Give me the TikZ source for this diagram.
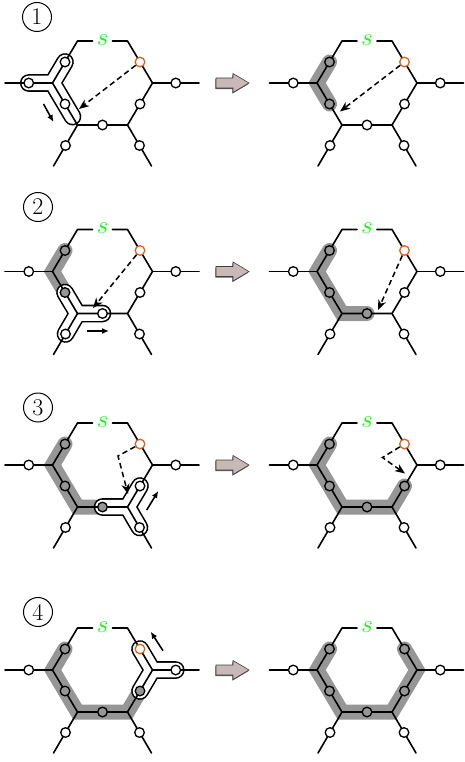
\documentclass[tikz,border=0pt]{standalone}
\usetikzlibrary{arrows.meta}
\definecolor{orangec}{RGB}{222,100,30}
\definecolor{hlgray}{RGB}{150,150,150}
\definecolor{arrfill}{RGB}{200,184,184}
\pgfdeclarelayer{hl}\pgfdeclarelayer{bub}\pgfdeclarelayer{edges}
\pgfsetlayers{hl,bub,edges,main}
\tikzset{
 v/.style={circle,draw,fill=white,line width=1.3pt,minimum size=9.6pt,inner sep=0pt},
 vh/.style={v,fill=hlgray},
 vo/.style={v,draw=orangec},
 edge/.style={line width=1.6pt,line cap=round,line join=round},
 hilite/.style={line width=15pt,draw=hlgray,line cap=round,line join=miter},
 bubble/.style={line width=1.6pt,double=white,double distance=14.5pt,line cap=round,line join=round},
 dasharr/.style={line width=1.5pt,dash pattern=on 5.5pt off 3.5pt,-{Stealth[length=10pt,width=8pt,inset=3pt]}},
 movearr/.style={line width=1.6pt,-{Latex[length=7pt,width=6pt]}},
 numc/.style={circle,draw,line width=1pt,minimum size=29pt,inner sep=0pt,font=\fontsize{24}{24}\selectfont},
 slabel/.style={text=green,inner sep=0pt,minimum width=21pt,font=\fontsize{24.88}{26}\selectfont},
}
\newcommand\hexpanel[5]{%
 \coordinate (TL) at (77.5,42); \coordinate (TR) at (127.5,42);
 \coordinate (L) at (52.5,84); \coordinate (R) at (152.5,84);
 \coordinate (BL) at (77.5,126); \coordinate (BR) at (127.5,126);
 \coordinate (Lend) at (5,84); \coordinate (Rend) at (199,84);
 \coordinate (BLend) at (53.5,167); \coordinate (BRend) at (151.5,167);
 \coordinate (sL) at (92.5,42); \coordinate (sR) at (112.5,42);
 \node[slabel] (s) at (102.5,41) {$s$};
 \node[#1] (UL) at (65,63) {};
 \node[#5] (UR) at (140,63) {};
 \node[v] (NL) at (28.75,84) {};
 \node[v] (NR) at (175.75,84) {};
 \node[#2] (LL) at (65,105) {};
 \node[#4] (LR) at (140,105) {};
 \node[#3] (B) at (102.5,126) {};
 \node[v] (DL) at (65.5,146.5) {};
 \node[v] (DR) at (139.5,146.5) {};
 \begin{pgfonlayer}{edges}
 \draw[edge] (sL) -- (TL) -- (UL.center) -- (L) -- (LL.center) -- (BL) -- (B.center) -- (BR) -- (LR.center) -- (R) -- (UR.center) -- (TR) -- (sR);
 \draw[edge] (Lend) -- (NL.center) -- (L);
 \draw[edge] (R) -- (NR.center) -- (Rend);
 \draw[edge] (BL) -- (DL.center) -- (BLend);
 \draw[edge] (BR) -- (DR.center) -- (BRend);
 \end{pgfonlayer}
}
\newcommand\blockarrow{%
 \fill[black!65] (215.3,80.2) -- (232.3,80.2) -- (232.3,75.7) -- (248.3,85.2) -- (232.3,94.7) -- (232.3,90.2) -- (215.3,90.2) -- cycle;
 \filldraw[fill=arrfill,draw=black!75,line width=0.6pt] (216,79) -- (233,79) -- (233,74.5) -- (249,84) -- (233,93.5) -- (233,89) -- (216,89) -- cycle;
}
\begin{document}
\begin{tikzpicture}[x=1pt,y=-1pt]
\useasboundingbox (0,0) rectangle (464,762);
% circled numbers
\node[numc] (n1) at (37,17) {1};
\node[numc] (n2) at (38,207) {2};
\node[numc] (n3) at (38,407.5) {3};
\node[numc] (n4) at (38,612) {4};
% ---------- panel 1 ----------
\begin{scope}[shift={(0,-1)},name prefix=a1-]
 \hexpanel{v}{v}{v}{v}{vo}
 \coordinate (e1) at (72.5,117.6);
 \begin{pgfonlayer}{bub}
 \draw[bubble] (NL.center) -- (L) -- (UL.center) (L) -- (e1);
 \end{pgfonlayer}
 \coordinate (t1) at (79,110);
 \draw[dasharr] (UR) -- (t1);
 \coordinate (m1a) at (43.5,105); \coordinate (m1b) at (53.5,123);
 \draw[movearr] (m1a) -- (m1b);
 \blockarrow
\end{scope}
\begin{scope}[shift={(264.5,-1)},name prefix=b1-]
 \hexpanel{vh}{vh}{v}{v}{vo}
 \begin{pgfonlayer}{hl}
 \draw[hilite] (UL.center) -- (L) -- (LL.center);
 \end{pgfonlayer}
 \coordinate (t1) at (75.5,112.5);
 \draw[dasharr] (UR) -- (t1);
\end{scope}
% ---------- panel 2 ----------
\begin{scope}[shift={(0,187.5)},name prefix=a2-]
 \hexpanel{vh}{vh}{v}{v}{vo}
 \begin{pgfonlayer}{hl}
 \draw[hilite] (UL.center) -- (L) -- (LL.center);
 \end{pgfonlayer}
 \begin{pgfonlayer}{bub}
 \draw[bubble] (LL.center) -- (BL) -- (B.center) (BL) -- (DL.center);
 \end{pgfonlayer}
 \coordinate (t2) at (93,120.5);
 \draw[dasharr] (UR) -- (t2);
 \coordinate (m2a) at (87,143.5); \coordinate (m2b) at (109,143.5);
 \draw[movearr] (m2a) -- (m2b);
 \blockarrow
\end{scope}
\begin{scope}[shift={(264.5,187.5)},name prefix=b2-]
 \hexpanel{vh}{vh}{vh}{v}{vo}
 \begin{pgfonlayer}{hl}
 \draw[hilite] (UL.center) -- (L) -- (BL) -- (B.center);
 \end{pgfonlayer}
 \coordinate (t2) at (113.5,122.5);
 \draw[dasharr] (UR) -- (t2);
\end{scope}
% ---------- panel 3 ----------
\begin{scope}[shift={(0,381)},name prefix=a3-]
 \hexpanel{vh}{vh}{vh}{v}{vo}
 \begin{pgfonlayer}{hl}
 \draw[hilite] (UL.center) -- (L) -- (BL) -- (B.center);
 \end{pgfonlayer}
 \begin{pgfonlayer}{bub}
 \draw[bubble] (B.center) -- (BR) -- (LR.center) (BR) -- (DR.center);
 \end{pgfonlayer}
 \coordinate (c3) at (118,75); \coordinate (t3) at (128,113);
 \draw[dasharr] (UR) -- (c3) -- (t3);
 \coordinate (m3a) at (146.7,129); \coordinate (m3b) at (158.3,110);
 \draw[movearr] (m3a) -- (m3b);
 \blockarrow
\end{scope}
\begin{scope}[shift={(264.5,381)},name prefix=b3-]
 \hexpanel{vh}{vh}{vh}{vh}{vo}
 \begin{pgfonlayer}{hl}
 \draw[hilite] (UL.center) -- (L) -- (BL) -- (BR) -- (LR.center);
 \end{pgfonlayer}
 \coordinate (c3) at (118,76.5); \coordinate (t3) at (140.5,92.5);
 \draw[dasharr] (UR) -- (c3) -- (t3);
\end{scope}
% ---------- panel 4 ----------
\begin{scope}[shift={(0,586)},name prefix=a4-]
 \hexpanel{vh}{vh}{vh}{vh}{vo}
 \begin{pgfonlayer}{hl}
 \draw[hilite] (UL.center) -- (L) -- (BL) -- (BR) -- (LR.center);
 \end{pgfonlayer}
 \begin{pgfonlayer}{bub}
 \draw[bubble] (UR.center) -- (R) -- (NR.center) (R) -- (LR.center);
 \end{pgfonlayer}
 \coordinate (m4a) at (163,64.7); \coordinate (m4b) at (150.7,45.7);
 \draw[movearr] (m4a) -- (m4b);
 \blockarrow
\end{scope}
\begin{scope}[shift={(264.5,586)},name prefix=b4-]
 \hexpanel{vh}{vh}{vh}{vh}{vh}
 \begin{pgfonlayer}{hl}
 \draw[hilite] (UL.center) -- (L) -- (BL) -- (BR) -- (R) -- (UR.center);
 \end{pgfonlayer}
\end{scope}
\end{tikzpicture}
\end{document}
